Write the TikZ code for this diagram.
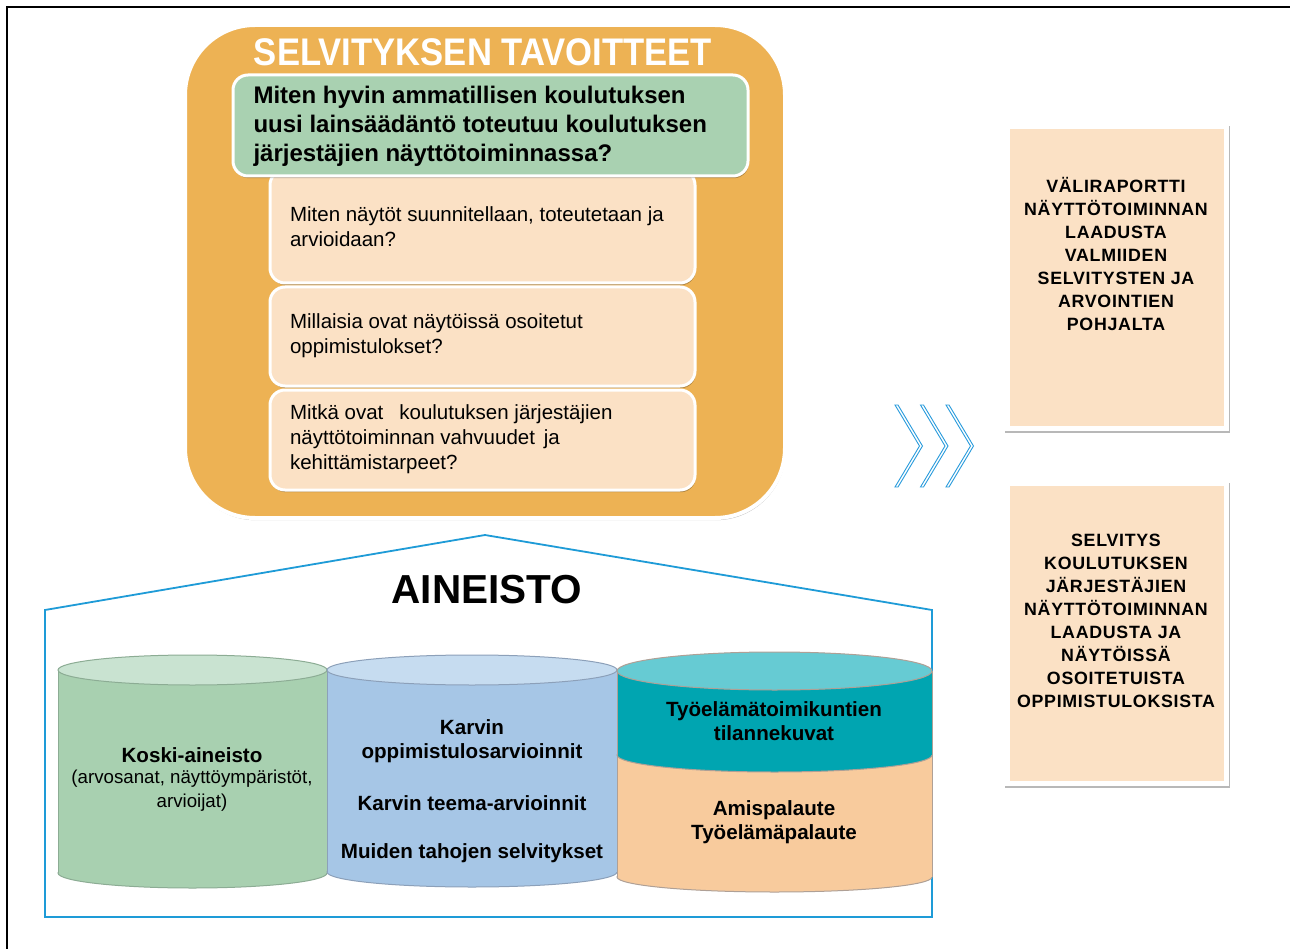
\documentclass[tikz,border=0pt]{standalone}
\usepackage{fontspec}
\setmainfont{Liberation Sans}
\newfontfamily\titlefont[FakeStretch=0.9]{Liberation Sans}
\newfontfamily\spacedfont[LetterSpace=4]{Liberation Sans}
\usetikzlibrary{shadows}
\definecolor{gold}{RGB}{237,178,84}
\definecolor{qgreen}{RGB}{169,209,177}
\definecolor{peach}{RGB}{251,225,197}
\definecolor{hblue}{RGB}{30,155,215}
\definecolor{cgreen}{RGB}{168,208,176}
\definecolor{cgreentop}{RGB}{201,227,209}
\definecolor{cgreenline}{RGB}{140,172,148}
\definecolor{cblue}{RGB}{166,198,230}
\definecolor{cbluetop}{RGB}{198,220,240}
\definecolor{cblueline}{RGB}{140,160,185}
\definecolor{tealc}{RGB}{0,165,177}
\definecolor{tealtop}{RGB}{102,203,211}
\definecolor{corange}{RGB}{248,203,157}
\definecolor{orangeline}{RGB}{175,160,150}
\definecolor{chev}{RGB}{40,155,220}
\tikzset{
  shad/.style={drop shadow={shadow xshift=0.8pt,shadow yshift=-2.2pt,opacity=0.28,fill=black}},
  qbox/.style={fill=peach,draw=white,line width=3pt,rounded corners=15pt,shad},
  qtext/.style={anchor=west,align=left,font=\fontsize{20.5}{25}\selectfont},
  cyltext/.style={align=center,font=\bfseries\fontsize{20.6}{24}\selectfont},
  outtext/.style={align=center,font=\spacedfont\bfseries\fontsize{17.8}{23}\selectfont},
  chevron/.style={draw=chev,fill=white,line width=0.9pt,line join=miter},
}
\begin{document}
\begin{tikzpicture}[x=1pt,y=-1pt]
\useasboundingbox (0,0) rectangle (1290,949);
\fill[white] (0,0) rectangle (1290,949);
\draw[line width=2pt] (7,949) -- (7,7) -- (1290,7);

% ---- goals panel
\path[fill=gold,draw=white,line width=4pt,rounded corners=70pt,shad] (185,25) rectangle (785,518);
\node[text=white,font=\titlefont\bfseries\fontsize{38.5}{40}\selectfont] (title) at (483,52) {SELVITYKSEN TAVOITTEET};

\path[qbox] (270,170) rectangle (695,283);
\path[qbox] (270,287) rectangle (695,386);
\path[qbox] (270,390) rectangle (695,490);
\path[fill=qgreen,draw=white,line width=3pt,rounded corners=15pt,shad] (233,75) rectangle (748,176);

\node[anchor=west,align=left,font=\bfseries\fontsize{24}{29}\selectfont] (main) at (250,126)
  {Miten hyvin ammatillisen koulutuksen\\uusi lainsäädäntö toteutuu koulutuksen\\järjestäjien näyttötoiminnassa?};
\node[qtext] (q1) at (286.5,226.5) {Miten näytöt suunnitellaan, toteutetaan ja\\arvioidaan?};
\node[qtext] (q2) at (286.5,335.5) {Millaisia ovat näytöissä osoitetut\\oppimistulokset?};
\node[qtext] (q3) at (286.5,439) {Mitkä ovat\hspace{0.5em} koulutuksen järjestäjien\\näyttötoiminnan vahvuudet\hspace{0.15em} ja\\kehittämistarpeet?};

% ---- house
\draw[hblue,line width=1.8pt,line join=miter] (45,917) -- (45,610) -- (485,535) -- (932,610) -- (932,917) -- cycle;
\node[font=\bfseries\fontsize{40.5}{44}\selectfont] (aineisto) at (487,590) {AINEISTO};

% green cylinder
\path[fill=cgreen,draw=cgreenline,line width=1pt] (192.5,873) ellipse [x radius=134.5,y radius=15];
\fill[cgreen] (58,670) rectangle (327,873);
\draw[cgreenline,line width=1pt] (58,670) -- (58,873) (327,670) -- (327,873);
\path[fill=cgreentop,draw=cgreenline,line width=1pt] (192.5,670) ellipse [x radius=134.5,y radius=15];
% blue cylinder
\path[fill=cblue,draw=cblueline,line width=1pt] (472,872) ellipse [x radius=145,y radius=15];
\fill[cblue] (327,670) rectangle (617,872);
\draw[cblueline,line width=1pt] (327,670) -- (327,872) (617,670) -- (617,872);
\path[fill=cbluetop,draw=cblueline,line width=1pt] (472,670) ellipse [x radius=145,y radius=15];
% right cylinder
\path[fill=corange,draw=orangeline,line width=1pt] (774.5,877) ellipse [x radius=157.5,y radius=15];
\fill[corange] (617,755) rectangle (932,877);
\draw[orangeline,line width=1pt] (617,755) -- (617,877) (932,755) -- (932,877);
\path[fill=tealc,draw=orangeline,line width=1pt] (774.5,755) ellipse [x radius=157.5,y radius=17];
\fill[tealc] (617,671) rectangle (932,755);
\draw[orangeline,line width=1pt] (617,671) -- (617,755) (932,671) -- (932,755);
\path[fill=tealtop,draw=orangeline,line width=1pt] (774.5,671) ellipse [x radius=157.5,y radius=19];

\node[cyltext] (koski) at (192,755) {Koski-aineisto};
\node[align=center,font=\fontsize{18.7}{23.5}\selectfont] (koskisub) at (192,790.5) {(arvosanat, näyttöympäristöt,\\arvioijat)};
\node[cyltext] (karvin1) at (472,741) {Karvin\\oppimistulosarvioinnit};
\node[cyltext] (karvin2) at (472,803) {Karvin teema-arvioinnit};
\node[cyltext] (muiden) at (472,853) {Muiden tahojen selvitykset};
\node[cyltext] (tyo) at (774,721) {Työelämätoimikuntien\\tilannekuvat};
\node[cyltext] (amis) at (774,822) {Amispalaute\\Työelämäpalaute};

% ---- chevrons
\foreach \x in {895,920.5,946}{
  \path[chevron] (\x,405) -- ({\x+24.5},446) -- (\x,487)
     -- ({\x+3},487) -- ({\x+27.5},446) -- ({\x+3},405) -- cycle;
}

% ---- output boxes
\path[fill=white,shad] (1004,124) rectangle (1229,431);
\path[fill=peach] (1010,129) rectangle (1224,426);
\node[outtext] (out1) at (1116,254) {VÄLIRAPORTTI\\NÄYTTÖTOIMINNAN\\LAADUSTA\\VALMIIDEN\\SELVITYSTEN JA\\ARVOINTIEN\\POHJALTA};
\path[fill=white,shad] (1004,481) rectangle (1229,786);
\path[fill=peach] (1010,486) rectangle (1224,781);
\node[outtext] (out2) at (1116,620.5) {SELVITYS\\KOULUTUKSEN\\JÄRJESTÄJIEN\\NÄYTTÖTOIMINNAN\\LAADUSTA JA\\NÄYTÖISSÄ\\OSOITETUISTA\\OPPIMISTULOKSISTA};
\end{tikzpicture}
\end{document}
